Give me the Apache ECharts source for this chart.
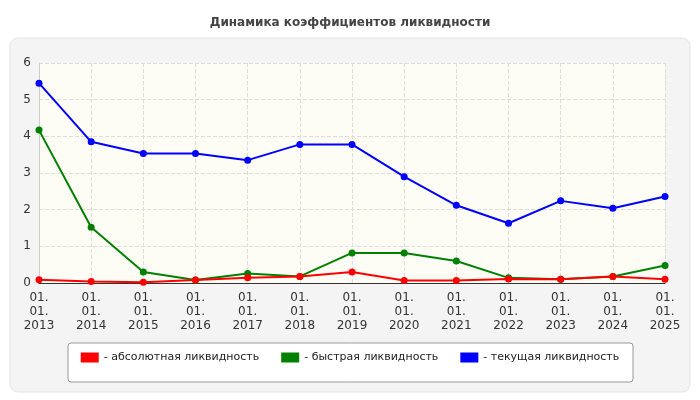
<!DOCTYPE html><html><head><meta charset="utf-8"><script src="https://cdn.jsdelivr.net/npm/echarts@6/dist/echarts.min.js"></script>
<style>body{margin:0;background:#fff}#c{width:700px;height:400px}</style></head><body><div id="c"></div><script>
const categories=['01.\n01.\n2013','01.\n01.\n2014','01.\n01.\n2015','01.\n01.\n2016','01.\n01.\n2017','01.\n01.\n2018','01.\n01.\n2019','01.\n01.\n2020','01.\n01.\n2021','01.\n01.\n2022','01.\n01.\n2023','01.\n01.\n2024','01.\n01.\n2025'];
const absolute=[0.09,0.04,0.02,0.08,0.14,0.18,0.30,0.07,0.07,0.11,0.10,0.18,0.10];
const quick=[4.17,1.52,0.30,0.08,0.26,0.18,0.82,0.82,0.60,0.14,0.10,0.18,0.48];
const current=[5.45,3.85,3.53,3.53,3.35,3.78,3.78,2.90,2.12,1.63,2.24,2.04,2.36];
const names=['- абсолютная ликвидность','- быстрая ликвидность','- текущая ликвидность'];
const colors=['#ff0000','#008000','#0000ff'];
const ch=echarts.init(document.getElementById('c'));
const mk=(n,d,c)=>({name:n,type:'line',data:d,symbol:'circle',symbolSize:7,lineStyle:{width:2,color:c},itemStyle:{color:c},z:c==='#ff0000'?5:3});
ch.setOption({
 animation:false,textStyle:{fontFamily:'Verdana, DejaVu Sans, sans-serif'},
 graphic:[{type:'rect',shape:{x:10,y:38,width:680,height:354,r:8},style:{fill:'#f4f4f4',stroke:'#e4e4e4'},z:-10},
  {type:'rect',shape:{x:68,y:343,width:565,height:39,r:3},style:{fill:'#fff',stroke:'#999'},z:-5}],
 title:{text:'Динамика коэффициентов ликвидности',left:'center',top:12,textStyle:{fontSize:12,fontWeight:'bold',color:'#444'}},
 legend:{bottom:32,left:'center',itemGap:22,itemWidth:18,itemHeight:10,icon:'rect',textStyle:{fontSize:11,color:'#222'},data:names},
 grid:{left:39,right:35,top:63,bottom:117,show:true,backgroundColor:'#fdfdf6',borderWidth:0},
 xAxis:{type:'category',data:categories,boundaryGap:false,axisLine:{lineStyle:{color:'#333'}},axisTick:{show:false},
  axisLabel:{color:'#333',fontSize:12,lineHeight:14,margin:8},splitLine:{show:true,lineStyle:{type:'dashed',color:'#ddd'}}},
 yAxis:{type:'value',min:0,max:6,interval:1,axisLine:{show:true,lineStyle:{color:'#ccc'}},axisLabel:{color:'#333',fontSize:12},
  splitLine:{lineStyle:{type:'dashed',color:'#ddd'}}},
 series:[mk(names[0],absolute,colors[0]),mk(names[1],quick,colors[1]),mk(names[2],current,colors[2])]
});
</script></body></html>
